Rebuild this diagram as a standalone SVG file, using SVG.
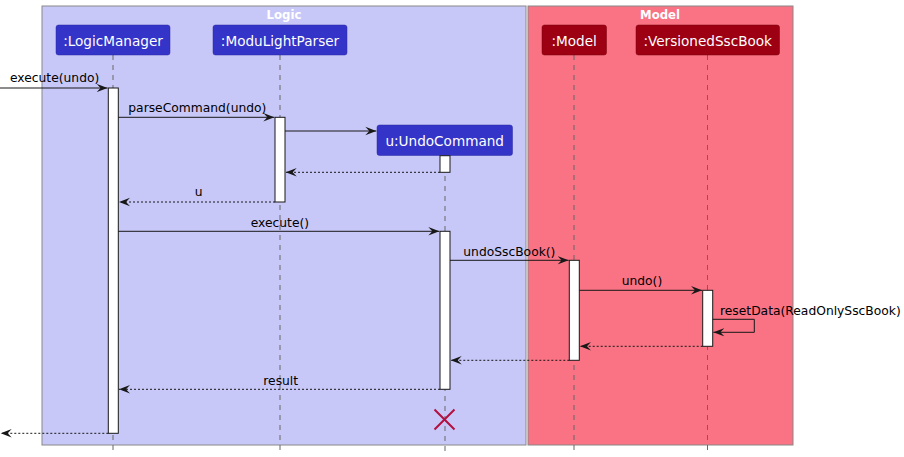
<svg xmlns="http://www.w3.org/2000/svg" width="904" height="457" viewBox="0 0 904 457">
<style>
  .box { stroke: #888888; stroke-width: 1; }
  .title { font-family: "DejaVu Sans", sans-serif; font-size: 11.7px; font-weight: bold; fill: #ffffff; text-anchor: middle; }
  .life { stroke: #666666; stroke-width: 1; stroke-dasharray: 5 5; fill: none; }
  .pl { fill: #3434C9; stroke: #2a2aa0; stroke-width: 0.5; }
  .pm { fill: #9D0012; stroke: #7a000e; stroke-width: 0.5; }
  .ptext { font-family: "DejaVu Sans", sans-serif; font-size: 13.6px; fill: #ffffff; text-anchor: middle; }
  .act { fill: #ffffff; stroke: #181818; stroke-width: 1; }
  .msg { stroke: #181818; stroke-width: 1; fill: none; }
  .ret { stroke: #181818; stroke-width: 1; fill: none; stroke-dasharray: 2 2; }
  .lbl { font-family: "DejaVu Sans", sans-serif; font-size: 12.3px; fill: #000000; }
  .mid { text-anchor: middle; }
</style>
<defs>
  <marker id="ah" markerWidth="12" markerHeight="10" viewBox="0 0 12 10" refX="11" refY="5" orient="auto" markerUnits="userSpaceOnUse">
    <polygon points="0,0.8 11,5 0,9.2 4,5" fill="#181818"/>
  </marker>
</defs>

<!-- boxes -->
<g id="box-logic">
  <rect class="box" x="42" y="6" width="484" height="439" fill="#C8C8F8"/>
  <text class="title" x="284" y="18.5">Logic</text>
</g>
<g id="box-model">
  <rect class="box" x="528" y="6" width="265" height="439" fill="#F97384"/>
  <text class="title" x="660" y="18.5">Model</text>
</g>

<!-- lifelines -->
<g id="lifelines">
  <line class="life" x1="113" y1="55" x2="113" y2="452"/>
  <line class="life" x1="280" y1="55" x2="280" y2="452"/>
  <line class="life" x1="445" y1="156" x2="445" y2="452"/>
  <line class="life" x1="574" y1="55" x2="574" y2="452"/>
  <line class="life" x1="707.5" y1="55" x2="707.5" y2="452"/>
</g>

<!-- participants -->
<g id="logicManager">
  <rect class="pl" x="56" y="25" width="114" height="30" rx="2.5"/>
  <text class="ptext" x="113" y="45.5">:LogicManager</text>
</g>
<g id="moduLightParser">
  <rect class="pl" x="213" y="25" width="134" height="30" rx="2.5"/>
  <text class="ptext" x="280" y="45.5">:ModuLightParser</text>
</g>
<g id="undoCommand">
  <rect class="pl" x="377" y="125" width="135.5" height="30.5" rx="2.5"/>
  <text class="ptext" x="444.7" y="146">u:UndoCommand</text>
</g>
<g id="model">
  <rect class="pm" x="542" y="25" width="64.5" height="30" rx="2.5"/>
  <text class="ptext" x="574.2" y="45.5">:Model</text>
</g>
<g id="versionedSscBook">
  <rect class="pm" x="636" y="25" width="143.5" height="30" rx="2.5"/>
  <text class="ptext" x="707.7" y="45.5">:VersionedSscBook</text>
</g>

<!-- activations -->
<g id="activations">
  <rect class="act" x="108.3" y="88" width="10" height="345.3"/>
  <rect class="act" x="275" y="117.3" width="10" height="84.7"/>
  <rect class="act" x="440" y="155.7" width="10" height="16.6"/>
  <rect class="act" x="440" y="231.3" width="10" height="158"/>
  <rect class="act" x="569.3" y="260.3" width="10" height="100"/>
  <rect class="act" x="702.7" y="290.3" width="10" height="56"/>
</g>

<!-- connectors -->
<g id="connectors">
  <line class="msg" x1="0" y1="88" x2="107.5" y2="88" marker-end="url(#ah)"/>
  <text class="lbl" x="10" y="82">execute(undo)</text>

  <line class="msg" x1="118.3" y1="117.3" x2="274.3" y2="117.3" marker-end="url(#ah)"/>
  <text class="lbl" x="128.3" y="111.7">parseCommand(undo)</text>

  <line class="msg" x1="285" y1="131" x2="376.3" y2="131" marker-end="url(#ah)"/>

  <line class="ret" x1="440" y1="172.3" x2="285.7" y2="172.3" marker-end="url(#ah)"/>

  <line class="ret" x1="275" y1="202" x2="119" y2="202" marker-end="url(#ah)"/>
  <text class="lbl mid" x="198.7" y="196">u</text>

  <line class="msg" x1="118.3" y1="231.3" x2="439.3" y2="231.3" marker-end="url(#ah)"/>
  <text class="lbl" x="250.7" y="226.5">execute()</text>

  <line class="msg" x1="450" y1="260.3" x2="568.6" y2="260.3" marker-end="url(#ah)"/>
  <text class="lbl" x="463.3" y="256">undoSscBook()</text>

  <line class="msg" x1="579.3" y1="290.3" x2="702" y2="290.3" marker-end="url(#ah)"/>
  <text class="lbl" x="621.7" y="285">undo()</text>

  <polyline class="msg" points="712.7,319.3 754.3,319.3 754.3,332.3 713.4,332.3" marker-end="url(#ah)"/>
  <text class="lbl" x="720" y="315">resetData(ReadOnlySscBook)</text>

  <line class="ret" x1="702.7" y1="346.3" x2="580" y2="346.3" marker-end="url(#ah)"/>

  <line class="ret" x1="569.3" y1="360.3" x2="450.7" y2="360.3" marker-end="url(#ah)"/>

  <line class="ret" x1="440" y1="389.3" x2="119" y2="389.3" marker-end="url(#ah)"/>
  <text class="lbl" x="263.3" y="384.7">result</text>

  <line class="ret" x1="108.3" y1="433.3" x2="0.7" y2="433.3" marker-end="url(#ah)"/>
</g>

<!-- destroy -->
<g id="destroy">
  <path d="M434.5,409.5 L454.5,429.5 M454.5,409.5 L434.5,429.5" stroke="#B3103F" stroke-width="2" fill="none"/>
</g>
</svg>
